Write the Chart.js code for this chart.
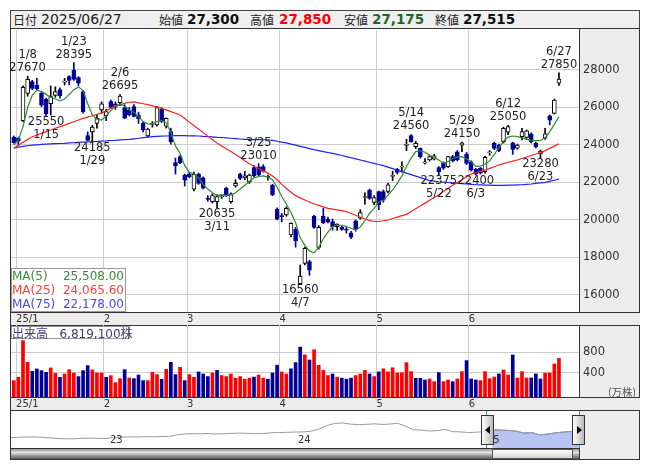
<!DOCTYPE html>
<html lang="ja">
<head>
<meta charset="utf-8">
<title>8035</title>
<script src="https://cdn.jsdelivr.net/npm/chart.js@4.4.1/dist/chart.umd.min.js"></script>
<style>
  body { margin: 0; width: 653px; height: 470px; background: #fff; overflow: hidden; position: relative; font-family: "DejaVu Sans", sans-serif; }
  .a { position: absolute; box-sizing: border-box; }
  #head { left: 10px; top: 10px; width: 630px; height: 19px; background: #efefef; border: 1px solid #444; }
  #head span { position: absolute; top: 0; line-height: 17px; white-space: nowrap; }
  .jp { font-family: "Noto Sans CJK JP", sans-serif; font-size: 12px; color: #222; }
  .num { font-size: 14px; color: #222; }
  .val { font-size: 13.5px; font-weight: bold; color: #111; }
  #frame { left: 10px; top: 28px; width: 630px; height: 432px; border: 1px solid #333; }
  #rcol { left: 579px; top: 29px; width: 60px; height: 430px; background: #ececec; border-left: 1px solid #333; }
  .band { left: 11px; width: 629px; height: 14px; background: #ececec; border-top: 1px solid #333; border-bottom: 1px solid #333; }
  canvas { position: absolute; }
  #maBox { left: 11px; top: 268px; width: 115px; height: 44px; border: 1px solid #999; background: rgba(255,255,255,0.85); font-size: 12px; }
  #maBox div { position: relative; height: 14px; line-height: 14px; }
  #maBox span.v { position: absolute; right: 1px; }
  #volBox { left: 11px; top: 326px; width: 119px; height: 13px; border: 1px solid #999; background: rgba(255,255,255,0.85); color: #40407a; font-size: 12px; line-height: 11px; white-space: nowrap; }
  #unit { left: 608px; top: 384px; font-family: "Noto Sans CJK JP", sans-serif; font-size: 10.5px; color: #555; }
  .yr { font-size: 10px; color: #333; top: 434px; }
  .cyan { width: 1px; top: 411px; height: 37px; background: #2aa6dc; }
  .handle { top: 415px; width: 13px; height: 30px; border: 1px solid #333; background: linear-gradient(to right, #ffffff, #b8b8b8); }
  .tri { position: absolute; top: 10px; width: 0; height: 0; border-top: 4px solid transparent; border-bottom: 4px solid transparent; }
  #scroll { left: 11px; top: 448px; width: 568px; height: 11px; border-top: 1px solid #333; background: linear-gradient(#9a9a9a, #e0e0e0 35%, #555 100%); }
  #thumb { left: 492px; top: 449px; width: 81px; height: 10px; border: 1px solid #555; background: linear-gradient(#fdfdfd, #d4d4d4); }
</style>
</head>
<body>
<div id="head" class="a">
  <span class="jp" style="left:2px">日付</span>
  <span class="num" style="left:30px" id="hDate"></span>
  <span class="jp" style="left:148px">始値</span>
  <span class="val" style="left:176px" id="hO"></span>
  <span class="jp" style="left:239px">高値</span>
  <span class="val" style="left:268px;color:#ff0000" id="hH"></span>
  <span class="jp" style="left:333px">安値</span>
  <span class="val" style="left:361px;color:#1c6b1c" id="hL"></span>
  <span class="jp" style="left:424px">終値</span>
  <span class="val" style="left:452px" id="hC"></span>
</div>
<div id="frame" class="a"></div>
<div id="rcol" class="a"></div>
<div class="a band" style="top:312px"></div>
<div class="a band" style="top:397px"></div>

<canvas id="pc" width="630" height="295" style="left:10px;top:30px"></canvas>
<canvas id="vc" width="630" height="85" style="left:10px;top:325px"></canvas>
<canvas id="nc" width="568" height="38" style="left:11px;top:410px"></canvas>

<div id="maBox" class="a">
  <div style="color:#3a8a3a">MA(5)<span class="v" id="m5"></span></div>
  <div style="color:#ff3c3c">MA(25)<span class="v" id="m25"></span></div>
  <div style="color:#4646ff">MA(75)<span class="v" id="m75"></span></div>
</div>
<div id="volBox" class="a"><span class="jp" style="color:#40407a">出来高</span>&nbsp;&nbsp;&nbsp;<span id="volTxt"></span></div>
<div id="unit" class="a">(万株)</div>

<div class="a yr" style="left:110px">23</div>
<div class="a yr" style="left:298px">24</div>
<div class="a yr" style="left:487px">25</div>
<div class="a cyan" style="left:486px"></div>
<div class="a cyan" style="left:579px"></div>
<div id="scroll" class="a"></div>
<div id="thumb" class="a"></div>
<div class="a handle" style="left:481px"><div class="tri" style="left:3px;border-right:5px solid #000"></div></div>
<div class="a handle" style="left:572px"><div class="tri" style="left:4px;border-left:5px solid #000"></div></div>

<script>
// daily candles 2024/12/30 - 2025/06/27
const dates = ['12/30','1/6','1/7','1/8','1/9','1/10','1/14','1/15','1/16','1/17','1/20','1/21','1/22','1/23','1/24','1/27','1/28','1/29','1/30','1/31',
  '2/3','2/4','2/5','2/6','2/7','2/10','2/12','2/13','2/14','2/17','2/18','2/19','2/20','2/21','2/25','2/26','2/27','2/28',
  '3/3','3/4','3/5','3/6','3/7','3/10','3/11','3/12','3/13','3/14','3/17','3/18','3/19','3/21','3/24','3/25','3/26','3/27','3/28','3/31',
  '4/1','4/2','4/3','4/4','4/7','4/8','4/9','4/10','4/11','4/14','4/15','4/16','4/17','4/18','4/21','4/22','4/23','4/24','4/25','4/28','4/30',
  '5/1','5/2','5/7','5/8','5/9','5/12','5/13','5/14','5/15','5/16','5/19','5/20','5/21','5/22','5/23','5/26','5/27','5/28','5/29','5/30',
  '6/2','6/3','6/4','6/5','6/6','6/9','6/10','6/11','6/12','6/13','6/16','6/17','6/18','6/19','6/20','6/23','6/24','6/25','6/26','6/27'];
const openP = [24420,24350,25300,26750,27380,27200,26760,26430,26200,26650,26950,27350,27650,28000,27600,26850,24500,24700,25150,25870,
  25550,26310,26200,26260,26000,25870,26050,25600,25150,24480,25100,25070,25900,25000,24710,23060,23380,22400,
  22450,21640,22450,22250,21150,20980,20980,21250,21700,20980,21820,22430,22250,22050,22800,22840,22850,22330,21860,20570,
  20200,20270,19200,19520,16600,17690,17780,20210,18540,20210,20030,19910,19640,19620,19470,19320,19950,20100,21200,21600,20940,
  21510,21520,21520,22330,22720,22820,23980,24500,23910,23820,23050,23200,23250,22800,23020,22840,23380,23640,23990,23520,
  23100,22700,22750,22580,23580,24090,24000,24180,24680,24120,23830,24440,24410,24590,24090,23520,24360,25550,25690,27300];
const highP = [24480,24420,27150,27670,27450,27550,26850,26500,27150,27100,27050,27550,27700,28395,27650,26900,24700,25050,25600,26300,
  25900,26400,26300,26695,26150,26000,26150,25750,25250,24900,25250,26050,26000,25450,24900,23300,23450,22450,
  22550,22550,22500,22300,21300,21400,21350,21350,21750,21450,22150,22500,22600,22450,22900,23010,22950,22400,21900,20650,
  20350,20700,19850,19600,17600,18550,17850,20250,19700,20620,20150,20050,19800,19700,19600,19400,20000,20550,21450,21650,21300,
  21550,21600,21950,22600,22750,23100,24300,24560,24200,23850,23280,23450,23500,22850,23100,23400,23450,23700,24150,23600,
  23150,22750,22800,23400,23700,24150,24050,24950,25050,24150,24050,24890,24800,24650,24150,23730,24890,25600,26450,27850];
const lowP = [24100,23980,25250,26600,26950,26930,26050,25550,25600,26550,26500,27200,27200,27450,27150,25700,24200,24185,24900,25700,
  25300,25950,25900,26100,25400,25550,25500,25150,24700,24400,24950,25000,25200,24900,24050,22450,23000,21810,
  22250,21550,21900,21650,21000,20900,20635,21150,21250,20900,21750,22150,22150,21950,22300,22350,22550,22130,21300,20000,
  19900,20200,19100,18550,16560,17600,17050,19550,18450,19800,19850,19450,19450,19450,19300,19000,19400,20050,20850,21100,20800,
  20550,20950,21450,22100,22450,22550,23700,24150,23800,23300,22980,23150,23200,22375,22700,22800,23100,23150,23650,22950,
  22600,22400,22450,22500,23450,23750,23650,24100,24550,23500,23780,24270,24350,24100,23850,23280,24300,25070,25650,27175];
const closeP = [24120,24200,27080,27500,27020,27000,26130,25660,26580,26850,26620,27400,27450,27500,27300,25780,24250,24950,25420,26190,
  25780,26010,26050,26610,25430,25620,25520,25400,24800,24850,25130,26000,25250,25420,24180,22880,23060,22130,
  22310,22450,21955,21700,21100,21300,21250,21280,21330,21390,21950,22220,22350,22400,22350,22400,22600,22280,21340,20040,
  20180,20620,19820,18900,17010,18490,17330,19610,19610,19860,19900,19650,19780,19500,19460,19080,19500,20400,21250,21150,21200,
  20800,21060,21870,22360,22540,22850,24000,24180,24090,23380,23080,23380,23420,22580,22760,23380,23150,23200,24120,23020,
  22660,22450,22500,23340,23600,23820,23700,24890,24980,23770,24000,24710,24750,24180,23910,23680,24590,25330,26400,27515];
const closeBefore = 23990; // 2024/12/27
const ma5 = [24000,24270,24980,26000,26650,26930,26850,26700,26550,26450,26350,26450,26700,26950,27100,26900,26200,25600,25380,25330,
  25550,25850,26050,26180,26080,25870,25750,25520,25250,25130,25120,25250,25300,25180,24650,23950,23550,22900,
  22550,22450,22250,21900,21650,21450,21300,21350,21300,21330,21450,21650,21850,22050,22250,22320,22350,22300,22150,21750,
  21250,20850,20400,19850,19050,18650,18350,18250,18550,19000,19350,19650,19720,19720,19650,19560,19480,19620,19960,20350,20620,
  20950,21050,21330,21600,21950,22350,22850,23300,23650,23700,23610,23450,23330,23200,23020,23120,23280,23350,23380,23260,
  23100,22860,22870,22990,23150,23500,23850,24200,24420,24480,24450,24380,24300,24260,24230,24240,24380,24700,25100,25508];
const ma25 = [23820,23980,24140,24290,24440,24530,24620,24710,24800,24890,24980,25060,25150,25240,25330,25420,25490,25560,25630,25700,
  25830,25960,26100,26160,26220,26280,26300,26250,26200,26150,26090,26030,25960,25870,25780,25690,25600,25410,
  25220,25030,24850,24660,24470,24290,24100,23950,23800,23650,23490,23330,23160,23000,22870,22750,22620,22500,22350,22150,
  21900,21680,21480,21300,21180,21070,20960,20850,20780,20700,20620,20580,20540,20500,20450,20350,20250,20150,20050,19980,19920,
  19920,19960,20000,20080,20150,20230,20300,20450,20600,20750,20900,21050,21200,21350,21520,21680,21850,22000,22150,22300,
  22450,22520,22590,22660,22750,22840,22930,23010,23080,23140,23200,23280,23360,23440,23520,23590,23700,23820,23940,24065.6];
const ma75 = [23850,23890,23930,23960,23990,24010,24030,24050,24060,24070,24080,24090,24110,24120,24140,24150,24160,24180,24190,24210,
  24220,24240,24250,24270,24290,24300,24330,24360,24390,24420,24450,24460,24470,24480,24490,24500,24500,24500,
  24490,24490,24480,24460,24450,24430,24410,24400,24380,24360,24340,24320,24300,24300,24290,24290,24280,24280,24250,24200,
  24150,24110,24050,23990,23930,23870,23810,23750,23700,23650,23600,23550,23500,23440,23380,23320,23260,23200,23140,23080,23020,
  22960,22900,22820,22740,22660,22580,22500,22420,22340,22260,22180,22100,22070,22040,22020,22000,21980,21960,21940,21920,
  21900,21880,21870,21860,21855,21850,21850,21850,21855,21860,21870,21880,21900,21920,21950,21980,22010,22060,22120,22178];
// volume, 10k shares
const volume = [252,316,1026,606,432,477,445,413,497,393,316,381,464,400,329,445,542,458,400,400,
  316,348,213,290,464,303,290,361,252,252,413,368,277,471,606,368,510,252,
  368,316,420,380,330,400,450,350,330,380,300,330,280,300,320,360,300,280,400,550,
  420,380,480,600,900,750,650,850,550,450,350,380,320,300,280,300,350,380,450,380,330,
  420,480,420,500,400,406,600,426,297,297,264,284,232,406,232,264,232,284,426,639,
  284,264,252,426,290,322,381,458,361,748,303,426,303,303,381,284,400,400,574,681.91];
const priceTicks = [16000,18000,20000,22000,24000,26000,28000];
const volTicks = [400,800];
// marked highs (h) and lows (l)
const markIdx = [3,7,13,17,23,44,53,62,86,92,97,100,107,114,118];
const markSide = ['h','l','h','l','h','l','h','l','h','l','h','l','h','l','h'];
// overview line, half-month steps from 2022/06 to 2025/06
const navClose = [14000,14500,15000,15200,14500,13500,12500,12000,12000,12800,13200,12800,12500,
  14000,14800,15200,15000,15500,15300,15800,16000,18500,20000,20500,20300,20800,20000,20500,21000,21500,21000,20500,20800,22000,22500,22800,23200,
  23500,24500,28000,34000,37500,38500,36500,35500,36000,37000,36000,36500,38000,33000,27000,26500,25000,25500,27500,24000,23500,22500,23000,23800,
  27000,26500,26000,25000,21500,22500,18500,19800,22000,23200,24200,26000];
const navSelStart = 61;

const FONT = '"DejaVu Sans", sans-serif';
Chart.defaults.font.family = FONT;
Chart.defaults.color = '#333';

const n = dates.length;
const DOWN = '#000099';
const isUp = i => closeP[i] >= openP[i];
const volUp = i => closeP[i] >= (i === 0 ? closeBefore : closeP[i - 1]);
const X_MIN = -0.6, X_MAX = 122.34;

// month gridlines at first trading day
const monthStart = [], monthLabel = [];
for (let i = 1; i < n; i++) {
  const m = dates[i].split('/')[0];
  if (m !== dates[i - 1].split('/')[0]) {
    monthStart.push(i);
    monthLabel.push(m === '1' ? '25/1' : m);
  }
}

function monthAxis() {
  return {
    type: 'linear', min: X_MIN, max: X_MAX, offset: false,
    afterBuildTicks: s => { s.ticks = monthStart.map(i => ({ value: i - 0.5 })); },
    afterFit: s => { s.height = 13; s.paddingLeft = 0; s.paddingRight = 0; },
    grid: { color: '#cccccc', drawTicks: false, offset: false },
    border: { display: false },
    ticks: { autoSkip: false, maxRotation: 0, minRotation: 0, align: 'start', padding: 1,
      font: { size: 10 }, color: '#333', callback: (v, i) => monthLabel[i] }
  };
}

function rightAxis(min, max, ticks) {
  return {
    position: 'right', min: min, max: max,
    afterBuildTicks: s => { s.ticks = ticks.map(v => ({ value: v })); },
    afterFit: s => { s.width = 61; s.paddingTop = 0; s.paddingBottom = 0; },
    grid: { color: '#cccccc', drawTicks: false },
    border: { display: false },
    ticks: { padding: 4, font: { size: 11.5 }, color: '#333', callback: v => String(v) }
  };
}

const hiloLabels = {
  id: 'hiloLabels',
  afterDatasetsDraw(chart) {
    const { ctx } = chart;
    const xs = chart.scales.x, ys = chart.scales.y;
    ctx.save();
    ctx.font = '11.5px ' + FONT;
    ctx.fillStyle = '#222';
    ctx.textAlign = 'center';
    ctx.textBaseline = 'middle';
    markIdx.forEach((i, k) => {
      const px = xs.getPixelForValue(i);
      if (markSide[k] === 'h') {
        const py = ys.getPixelForValue(highP[i]);
        ctx.fillText(String(highP[i]), px, py - 8);
        ctx.fillText(dates[i], px, py - 21);
      } else {
        const py = ys.getPixelForValue(lowP[i]);
        ctx.fillText(String(lowP[i]), px, py + 6);
        ctx.fillText(dates[i], px, py + 19);
      }
    });
    ctx.restore();
  }
};

const baseOpts = {
  responsive: false, animation: false, devicePixelRatio: 1,
  layout: { padding: { left: 1, right: 0, top: 0, bottom: 0 } },
  plugins: { legend: { display: false }, tooltip: { enabled: false } }
};

const line = (arr, color) => ({
  type: 'line', data: arr.map((v, i) => ({ x: i, y: v })), borderColor: color,
  borderWidth: 1.2, pointRadius: 0, order: 1
});

new Chart(document.getElementById('pc'), {
  type: 'bar',
  data: {
    datasets: [
      line(ma5, '#2e8b2e'),
      line(ma25, '#ff2020'),
      line(ma75, '#2020ff'),
      {
        type: 'bar', label: 'body', order: 5, grouped: false,
        data: openP.map((o, i) => ({ x: i, y: [Math.min(o, closeP[i]), Math.max(o, closeP[i])] })),
        backgroundColor: openP.map((o, i) => isUp(i) ? '#ffffff' : DOWN),
        borderColor: openP.map((o, i) => isUp(i) ? '#000000' : DOWN),
        borderWidth: 1, borderSkipped: false, barThickness: 4, minBarLength: 1
      },
      {
        type: 'bar', label: 'wick', order: 6, grouped: false,
        data: lowP.map((l, i) => ({ x: i, y: [l, highP[i]] })),
        backgroundColor: lowP.map((l, i) => isUp(i) ? '#000000' : DOWN),
        barThickness: 1
      }
    ]
  },
  options: Object.assign({}, baseOpts, {
    scales: { x: monthAxis(), y: rightAxis(15093, 30133, priceTicks) }
  }),
  plugins: [hiloLabels]
});

const VOL_MIN = -65;
new Chart(document.getElementById('vc'), {
  type: 'bar',
  data: {
    datasets: [{
      data: volume.map((v, i) => ({ x: i, y: v })),
      backgroundColor: volume.map((v, i) => volUp(i) ? '#ff0000' : DOWN),
      barThickness: 3, base: VOL_MIN, grouped: false
    }]
  },
  options: Object.assign({}, baseOpts, {
    scales: { x: monthAxis(), y: rightAxis(VOL_MIN, 1328, volTicks) }
  })
});

new Chart(document.getElementById('nc'), {
  type: 'line',
  data: {
    datasets: [
      { data: navClose.map((v, k) => ({ x: k, y: v })), borderColor: '#9a9a9a', borderWidth: 1, pointRadius: 0 },
      { data: navClose.slice(navSelStart).map((v, k) => ({ x: k + navSelStart, y: v })),
        borderColor: '#6f7fd8', borderWidth: 1, pointRadius: 0, fill: 'start', backgroundColor: '#b7c4f3' }
    ]
  },
  options: {
    responsive: false, animation: false, devicePixelRatio: 1,
    layout: { padding: 0 },
    plugins: { legend: { display: false }, tooltip: { enabled: false } },
    scales: {
      x: { type: 'linear', display: false, min: 0, max: navClose.length - 1 },
      y: { display: false, min: -3333, max: 60000 }
    }
  }
});

// header and boxes
const last = n - 1;
const fmt = v => v.toLocaleString('en-US');
const fmt2 = v => v.toLocaleString('en-US', { minimumFractionDigits: 2, maximumFractionDigits: 2 });
document.getElementById('hDate').textContent = '2025/06/27';
document.getElementById('hO').textContent = fmt(openP[last]);
document.getElementById('hH').textContent = fmt(highP[last]);
document.getElementById('hL').textContent = fmt(lowP[last]);
document.getElementById('hC').textContent = fmt(closeP[last]);
document.getElementById('m5').textContent = fmt2(ma5[last]);
document.getElementById('m25').textContent = fmt2(ma25[last]);
document.getElementById('m75').textContent = fmt2(ma75[last]);
document.getElementById('volTxt').innerHTML = fmt(Math.round(volume[last] * 10000)) + '<span class="jp" style="color:#40407a">株</span>';
</script>
</body>
</html>
